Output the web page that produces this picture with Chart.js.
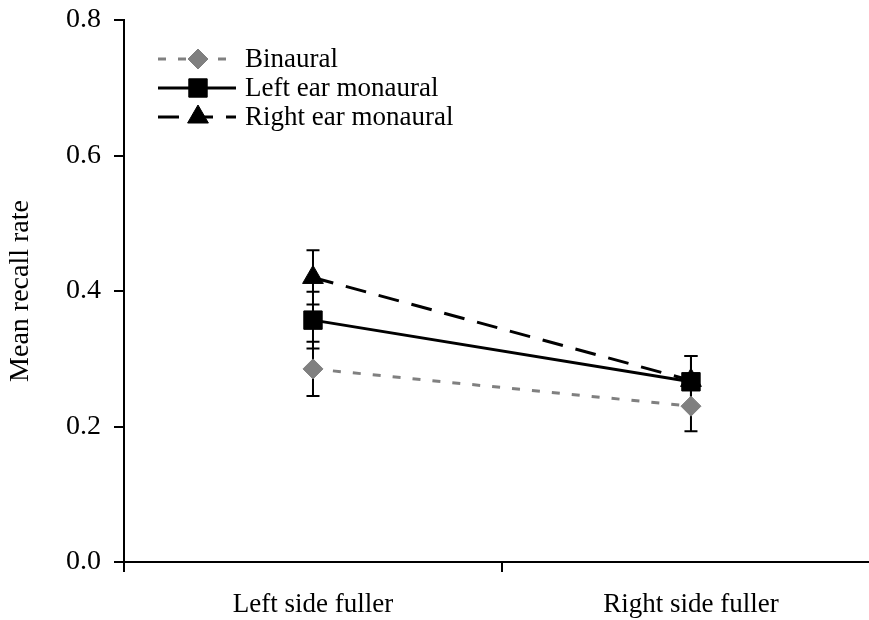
<!DOCTYPE html>
<html>
<head>
<meta charset="utf-8">
<script src="https://cdn.jsdelivr.net/npm/chart.js@4/dist/chart.umd.min.js"></script>
<style>
  html, body { margin: 0; padding: 0; background: #fff; overflow: hidden; width: 869px; height: 620px; }
  #wrap { width: 869px; height: 620px; overflow: hidden; position: relative; }
  #c { position: absolute; left: 0; top: 0; }
</style>
</head>
<body>
<div id="wrap"><canvas id="c" width="883" height="620"></canvas></div>
<script>
// Categories and series (mean recall rate, with error half-widths)
const categories = ['Left side fuller', 'Right side fuller'];
const seriesNames = ['Binaural', 'Left ear monaural', 'Right ear monaural'];
const binaural = [0.285, 0.230];
const leftEar = [0.357, 0.266];
const rightEar = [0.420, 0.268];
const binauralErr = [0.040, 0.037];
const leftEarErr = [0.042, 0.038];
const rightEarErr = [0.040, 0.036];
const yTicks = [0, 0.2, 0.4, 0.6, 0.8];
// Category positions on the x axis, and the tick marks between/around them
const xTicks = [-0.5, 0, 0.5, 1];

const FONT = "'Liberation Serif', 'Times New Roman', serif";

const styles = [
  { color: '#808080', dash: [8, 12], point: 'rectRot', radius: 10 },
  { color: '#000000', dash: [], point: 'rect', radius: 13 },
  { color: '#000000', dash: [21, 13], point: 'triangle', radius: 12 }
];
const values = [binaural, leftEar, rightEar];
const errors = [binauralErr, leftEarErr, rightEarErr];

// Vertical error bars with caps, drawn under the markers
const errorBars = {
  id: 'errorBars',
  beforeDatasetsDraw(chart) {
    const ctx = chart.ctx;
    const x = chart.scales.x, y = chart.scales.y;
    ctx.save();
    ctx.strokeStyle = '#000';
    ctx.lineWidth = 2;
    ctx.setLineDash([]);
    chart.data.datasets.forEach((ds) => {
      ds.data.forEach((p, j) => {
        const e = ds.err[j];
        const px = x.getPixelForValue(p.x);
        const top = y.getPixelForValue(p.y + e);
        const bot = y.getPixelForValue(p.y - e);
        ctx.beginPath();
        ctx.moveTo(px, top); ctx.lineTo(px, bot);
        ctx.moveTo(px - 6.5, top); ctx.lineTo(px + 6.5, top);
        ctx.moveTo(px - 6.5, bot); ctx.lineTo(px + 6.5, bot);
        ctx.stroke();
      });
    });
    ctx.restore();
  }
};

// Legend with line sample and marker in the middle
const lineLegend = {
  id: 'lineLegend',
  afterDraw(chart) {
    const ctx = chart.ctx;
    const x0 = 158, x1 = 236, xm = 198, xt = 245;
    const rows = [59, 88, 117];
    ctx.save();
    chart.data.datasets.forEach((ds, i) => {
      const yy = rows[i];
      const st = styles[i];
      ctx.strokeStyle = st.color;
      ctx.lineWidth = 3;
      ctx.setLineDash(st.dash);
      ctx.beginPath();
      ctx.moveTo(x0, yy); ctx.lineTo(x1, yy);
      ctx.stroke();
      ctx.setLineDash([]);
      ctx.fillStyle = st.color;
      ctx.strokeStyle = st.color;
      ctx.lineWidth = 1;
      Chart.helpers.drawPoint(ctx, { pointStyle: st.point, radius: st.radius, rotation: 0, borderWidth: 1 }, xm, yy);
      ctx.fillStyle = '#000';
      ctx.font = '27px ' + FONT;
      ctx.textBaseline = 'middle';
      ctx.textAlign = 'left';
      ctx.fillText(ds.label, xt, yy + 1);
    });
    ctx.restore();
  }
};

const datasets = seriesNames.map((name, i) => ({
  label: name,
  data: values[i].map((v, j) => ({ x: j, y: v })),
  err: errors[i],
  borderColor: styles[i].color,
  backgroundColor: styles[i].color,
  borderWidth: 3,
  borderDash: styles[i].dash,
  pointStyle: styles[i].point,
  pointRadius: styles[i].radius,
  pointHoverRadius: styles[i].radius,
  pointBackgroundColor: styles[i].color,
  pointBorderColor: styles[i].color,
  pointBorderWidth: 1,
  tension: 0,
  fill: false
}));

new Chart(document.getElementById('c'), {
  type: 'line',
  data: { datasets },
  plugins: [errorBars, lineLegend],
  options: {
    responsive: false,
    animation: false,
    devicePixelRatio: 1,
    layout: { padding: { top: 20, right: 0, bottom: 0, left: 0 } },
    plugins: { legend: { display: false }, tooltip: { enabled: false } },
    scales: {
      x: {
        type: 'linear',
        min: -0.5,
        max: 1.471,
        afterBuildTicks(s) { s.ticks = xTicks.map(v => ({ value: v })); },
        grid: {
          drawOnChartArea: false,
          lineWidth: 2,
          tickLength: 10,
          color: (c) => (c.tick && Number.isInteger(c.tick.value)) ? 'rgba(0,0,0,0)' : '#000'
        },
        border: { color: '#000', width: 2 },
        ticks: {
          font: { family: FONT, size: 27 }, color: '#000', padding: 17, maxRotation: 0, autoSkip: false,
          callback: (v) => Number.isInteger(v) ? categories[v] : ''
        },
        afterFit(s) { s.height = 58; s.paddingLeft = 0; s.paddingRight = 0; }
      },
      y: {
        min: 0,
        max: 0.8,
        afterBuildTicks(s) { s.ticks = yTicks.map(v => ({ value: v })); },
        grid: { drawOnChartArea: false, color: '#000', lineWidth: 2, tickLength: 10 },
        border: { color: '#000', width: 2 },
        ticks: { font: { family: FONT, size: 28 }, color: '#000', padding: 13, callback: v => Number(v).toFixed(1) },
        title: { display: true, text: 'Mean recall rate', font: { family: FONT, size: 28 }, color: '#000', padding: { top: 4, bottom: 0 } },
        afterFit(s) { s.width = 124; s.paddingTop = 0; s.paddingBottom = 0; }
      }
    }
  }
});
</script>
</body>
</html>
